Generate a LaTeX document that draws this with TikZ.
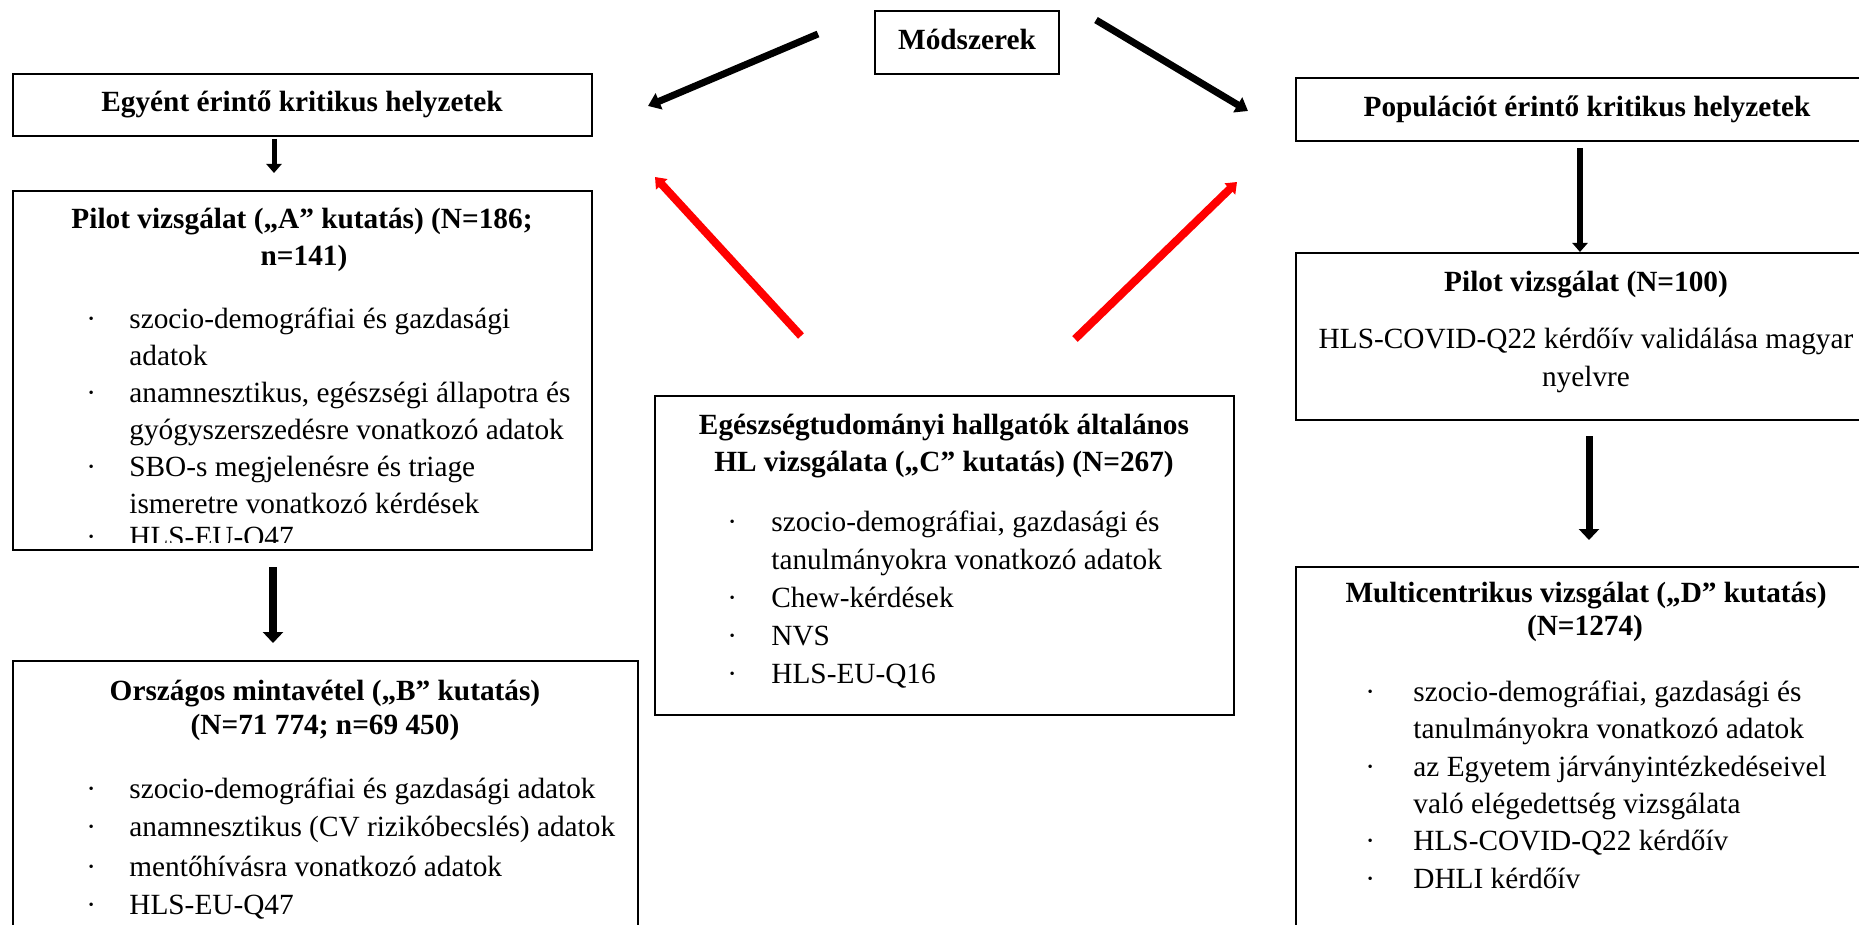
\documentclass[tikz,border=0pt]{standalone}
\usepackage{fontspec}
\setmainfont{Liberation Serif}
\usetikzlibrary{arrows.meta}

\newcommand{\boxfont}{\fontsize{14.65}{18}\selectfont}

\tikzset{
	flowBox/.style = {draw, line width = 1.25pt},
	boxTitle/.style = {font = \boxfont\bfseries, inner sep = 0pt, anchor = mid},
	boxText/.style = {font = \boxfont, inner sep = 0pt, anchor = mid},
	listLine/.style = {font = \boxfont, inner sep = 0pt, anchor = mid west},
	blackArrow/.style = {line width = 3.5pt, -{Triangle[length = 6pt, width = 8.5pt]}},
	downArrow/.style = {line width = 2.5pt, -{Triangle[length = 4.5pt, width = 7.5pt]}},
	longArrow/.style = {line width = 4pt, -{Triangle[length = 5.5pt, width = 10pt]}},
	redArrow/.style = {red, line width = 4pt, -{Triangle[length = 5pt, width = 7.5pt]}}
}

\begin{document}
\begin{tikzpicture} [x = 0.5pt, y = -0.5pt]

	\clip (0, 0) rectangle (1859, 925);

		% Define coordinates.

	%boxes
	\coordinate (methodsNW) at (875, 11);
	\coordinate (methodsSE) at (1059, 74);

	\coordinate (indivNW) at (13, 74);
	\coordinate (indivSE) at (592, 136);

	\coordinate (pilotANW) at (13, 191);
	\coordinate (pilotASE) at (592, 550);

	\coordinate (nationalNW) at (13, 661);
	\coordinate (nationalSE) at (638, 960);

	\coordinate (studentsNW) at (655, 396);
	\coordinate (studentsSE) at (1234, 715);

	\coordinate (popNW) at (1296, 78);
	\coordinate (popSE) at (1900, 141);

	\coordinate (pilotNNW) at (1296, 253);
	\coordinate (pilotNSE) at (1900, 420);

	\coordinate (multiNW) at (1296, 567);
	\coordinate (multiSE) at (1900, 960);

	%arrow ends
	\coordinate (methodsOutL) at (818, 34);
	\coordinate (indivIn) at (648, 106);
	\coordinate (methodsOutR) at (1096, 20);
	\coordinate (popIn) at (1248, 111);

	\coordinate (studentsOutL) at (801, 336);
	\coordinate (indivTarget) at (655, 177);
	\coordinate (studentsOutR) at (1075, 339);
	\coordinate (popTarget) at (1237, 182);

	\coordinate (indivOut) at (274, 139);
	\coordinate (pilotAIn) at (274, 173);
	\coordinate (pilotAOut) at (273, 567);
	\coordinate (nationalIn) at (273, 643);

	\coordinate (popOut) at (1580, 148);
	\coordinate (pilotNIn) at (1580, 252);
	\coordinate (pilotNOut) at (1589, 436);
	\coordinate (multiIn) at (1589, 540);

% Draw boxes.

	\draw[flowBox] (methodsNW) rectangle (methodsSE);
	\draw[flowBox] (indivNW) rectangle (indivSE);
	\draw[flowBox] (pilotANW) rectangle (pilotASE);
	\draw[flowBox] (nationalNW) rectangle (nationalSE);
	\draw[flowBox] (studentsNW) rectangle (studentsSE);
	\draw[flowBox] (popNW) rectangle (popSE);
	\draw[flowBox] (pilotNNW) rectangle (pilotNSE);
	\draw[flowBox] (multiNW) rectangle (multiSE);

% Titles.

	\node[boxTitle] (methods) at (967, 45) {Módszerek};
	\node[boxTitle] (indiv) at (302, 107) {Egyént érintő kritikus helyzetek};
	\node[boxTitle] (pop) at (1587, 112) {Populációt érintő kritikus helyzetek};

	\node[boxTitle] (pilotATitleA) at (302, 224) {Pilot vizsgálat („A” kutatás) (N=186;};
	\node[boxTitle] (pilotATitleB) at (304, 261) {n=141)};

	\node[boxTitle] (nationalTitleA) at (325, 696) {Országos mintavétel („B” kutatás)};
	\node[boxTitle] (nationalTitleB) at (325, 730) {(N=71 774; n=69 450)};

	\node[boxTitle] (studentsTitleA) at (944, 430) {Egészségtudományi hallgatók általános};
	\node[boxTitle] (studentsTitleB) at (944, 467) {HL vizsgálata („C” kutatás) (N=267)};

	\node[boxTitle] (pilotNTitle) at (1586, 287) {Pilot vizsgálat (N=100)};
	\node[boxText] (pilotNTextA) at (1586, 344) {HLS-COVID-Q22 kérdőív validálása magyar};
	\node[boxText] (pilotNTextB) at (1586, 382) {nyelvre};

	\node[boxTitle] (multiTitleA) at (1586, 598) {Multicentrikus vizsgálat („D” kutatás)};
	\node[boxTitle] (multiTitleB) at (1585, 631) {(N=1274)};

% Lists.

	%pilot A
	\node[listLine] (pilotADotA) at (86, 324) {·};
	\node[listLine] (pilotALineA) at (129, 324) {szocio-demográfiai és gazdasági};
	\node[listLine] (pilotALineB) at (129, 361) {adatok};
	\node[listLine] (pilotADotB) at (86, 398) {·};
	\node[listLine] (pilotALineC) at (129, 398) {anamnesztikus, egészségi állapotra és};
	\node[listLine] (pilotALineD) at (129, 435) {gyógyszerszedésre vonatkozó adatok};
	\node[listLine] (pilotADotC) at (86, 472) {·};
	\node[listLine] (pilotALineE) at (129, 472) {SBO-s megjelenésre és triage};
	\node[listLine] (pilotALineF) at (129, 509) {ismeretre vonatkozó kérdések};
	\begin{scope}
		\clip (0, 0) rectangle (1859, 542);
		\node[listLine] (pilotADotD) at (86, 542) {·};
		\node[listLine] (pilotALineG) at (129, 542) {HLS-EU-Q47};
	\end{scope}

	%national
	\node[listLine] (nationalDotA) at (86, 794) {·};
	\node[listLine] (nationalLineA) at (129, 794) {szocio-demográfiai és gazdasági adatok};
	\node[listLine] (nationalDotB) at (86, 832) {·};
	\node[listLine] (nationalLineB) at (129, 832) {anamnesztikus (CV rizikóbecslés) adatok};
	\node[listLine] (nationalDotC) at (86, 872) {·};
	\node[listLine] (nationalLineC) at (129, 872) {mentőhívásra vonatkozó adatok};
	\node[listLine] (nationalDotD) at (86, 910) {·};
	\node[listLine] (nationalLineD) at (129, 910) {HLS-EU-Q47};

	%students
	\node[listLine] (studentsDotA) at (727, 527) {·};
	\node[listLine] (studentsLineA) at (771, 527) {szocio-demográfiai, gazdasági és};
	\node[listLine] (studentsLineB) at (771, 565) {tanulmányokra vonatkozó adatok};
	\node[listLine] (studentsDotB) at (727, 603) {·};
	\node[listLine] (studentsLineC) at (771, 603) {Chew-kérdések};
	\node[listLine] (studentsDotC) at (727, 641) {·};
	\node[listLine] (studentsLineD) at (771, 641) {NVS};
	\node[listLine] (studentsDotD) at (727, 679) {·};
	\node[listLine] (studentsLineE) at (771, 679) {HLS-EU-Q16};

	%multi
	\node[listLine] (multiDotA) at (1365, 697) {·};
	\node[listLine] (multiLineA) at (1413, 697) {szocio-demográfiai, gazdasági és};
	\node[listLine] (multiLineB) at (1413, 734) {tanulmányokra vonatkozó adatok};
	\node[listLine] (multiDotB) at (1365, 772) {·};
	\node[listLine] (multiLineC) at (1413, 772) {az Egyetem járványintézkedéseivel};
	\node[listLine] (multiLineD) at (1413, 809) {való elégedettség vizsgálata};
	\node[listLine] (multiDotC) at (1365, 846) {·};
	\node[listLine] (multiLineE) at (1413, 846) {HLS-COVID-Q22 kérdőív};
	\node[listLine] (multiDotD) at (1365, 884) {·};
	\node[listLine] (multiLineF) at (1413, 884) {DHLI kérdőív};

% Draw arrows.

	\draw[blackArrow] (methodsOutL) -- (indivIn);
	\draw[blackArrow] (methodsOutR) -- (popIn);

	\draw[redArrow] (studentsOutL) -- (indivTarget);
	\draw[redArrow] (studentsOutR) -- (popTarget);

	\draw[downArrow] (indivOut) -- (pilotAIn);
	\draw[longArrow] (pilotAOut) -- (nationalIn);
	\draw[downArrow, line width = 3pt] (popOut) -- (pilotNIn);
	\draw[longArrow, line width = 3.5pt] (pilotNOut) -- (multiIn);

\end{tikzpicture}
\end{document}
